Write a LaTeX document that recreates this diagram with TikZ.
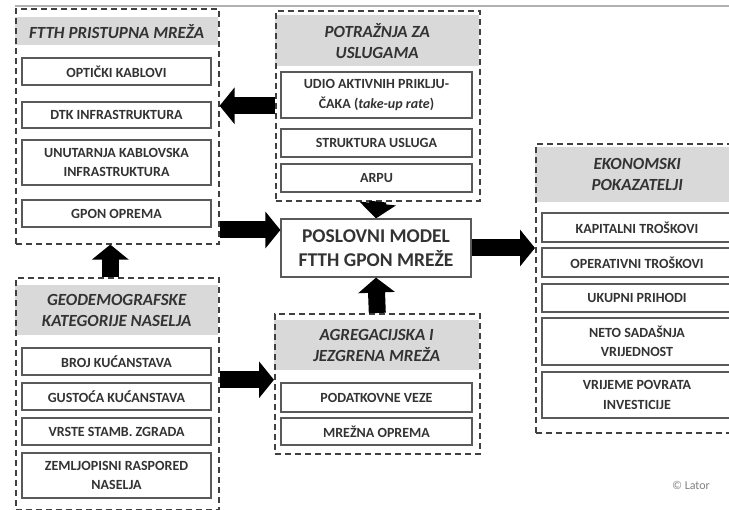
\documentclass[tikz,border=0pt]{standalone}
\usepackage{fontspec}
\setmainfont{Carlito}
\usetikzlibrary{arrows.meta,positioning}
\begin{document}
\begin{tikzpicture}[x=1pt,y=-1pt,
      grp/.style={draw=black!75,line width=1.6pt,dash pattern=on 6pt off 4pt,inner sep=0pt,anchor=north west},
      titleband/.style={fill=black!15,inner sep=0pt,anchor=north west,align=center,text=black!80,
        font=\bfseries\itshape\fontsize{17}{21}\selectfont},
      itembox/.style={draw=black!65,line width=1.2pt,fill=white,inner sep=0pt,align=center,text=black!80,
        font=\bfseries\fontsize{14}{19.5}\selectfont},
      bigarrow/.style={line width=17pt,-{Triangle[length=15pt,width=36pt]}}]
      \useasboundingbox (0,0) rectangle (729,510);
      \draw[black!30,line width=1.5pt] (15,6) -- (729,6);
      \node[titleband,minimum width=203pt,minimum height=28pt] (ftthT) at (15,17) {FTTH PRISTUPNA MREŽA};
      \node[itembox,minimum width=189pt,minimum height=27pt] (optic) at (116.5,71.5) {OPTIČKI KABLOVI};
      \node[itembox,minimum width=189pt,minimum height=26pt] (dtk) at (116.5,115) {DTK INFRASTRUKTURA};
      \node[itembox,minimum width=189pt,minimum height=45pt] (unutarnja) at (116.5,162.5) {UNUTARNJA KABLOVSKA\\INFRASTRUKTURA};
      \node[itembox,minimum width=189pt,minimum height=27pt] (gpon) at (116.5,213.5) {GPON OPREMA};
      \node[grp,minimum width=203pt,minimum height=235pt] (ftth) at (15,8) {};
      \node[titleband,minimum width=204pt,minimum height=51pt] (potT) at (275,15) {POTRAŽNJA ZA\\USLUGAMA};
      \node[itembox,minimum width=191pt,minimum height=46pt] (udio) at (376.5,95) {UDIO AKTIVNIH PRIKLJU-\\ČAKA (\textit{take-up rate})};
      \node[itembox,minimum width=191pt,minimum height=28pt] (struktura) at (376.5,143) {STRUKTURA USLUGA};
      \node[itembox,minimum width=191pt,minimum height=28pt] (arpu) at (376.5,178) {ARPU};
      \node[grp,minimum width=204pt,minimum height=190pt] (pot) at (275,10) {};
      \node[itembox,minimum width=190pt,minimum height=58pt,font=\bfseries\fontsize{19.5}{24}\selectfont] (model) at (376,248) {POSLOVNI MODEL\\FTTH GPON MREŽE};
      \node[titleband,minimum width=203pt,minimum height=50pt] (geoT) at (15,285) {GEODEMOGRAFSKE\\KATEGORIJE NASELJA};
      \node[itembox,minimum width=189pt,minimum height=27pt] (broj) at (116.5,361.5) {BROJ KUĆANSTAVA};
      \node[itembox,minimum width=189pt,minimum height=27pt] (gustoca) at (116.5,396.5) {GUSTOĆA KUĆANSTAVA};
      \node[itembox,minimum width=189pt,minimum height=27pt] (vrste) at (116.5,431.5) {VRSTE STAMB. ZGRADA};
      \node[itembox,minimum width=189pt,minimum height=45pt] (zemljopisni) at (116.5,475.5) {ZEMLJOPISNI RASPORED\\NASELJA};
      \node[grp,minimum width=203pt,minimum height=232pt] (geo) at (15,277) {};
      \node[titleband,minimum width=205pt,minimum height=50pt] (agrT) at (274,320) {AGREGACIJSKA I\\JEZGRENA MREŽA};
      \node[itembox,minimum width=191pt,minimum height=29pt] (podatkovne) at (376.5,397.5) {PODATKOVNE VEZE};
      \node[itembox,minimum width=191pt,minimum height=27pt] (mrezna) at (376.5,431.5) {MREŽNA OPREMA};
      \node[grp,minimum width=205pt,minimum height=140pt] (agr) at (274,313) {};
      \node[titleband,minimum width=204pt,minimum height=55pt] (ekoT) at (535,147) {EKONOMSKI\\POKAZATELJI};
      \node[itembox,minimum width=190pt,minimum height=29pt] (kapitalni) at (637,227.5) {KAPITALNI TROŠKOVI};
      \node[itembox,minimum width=190pt,minimum height=29pt] (operativni) at (637,262.5) {OPERATIVNI TROŠKOVI};
      \node[itembox,minimum width=190pt,minimum height=28pt] (ukupni) at (637,298) {UKUPNI PRIHODI};
      \node[itembox,minimum width=190pt,minimum height=47pt] (neto) at (637,341.5) {NETO SADAŠNJA\\VRIJEDNOST};
      \node[itembox,minimum width=190pt,minimum height=46pt] (vrijeme) at (637,395) {VRIJEME POVRATA\\INVESTICIJE};
      \node[grp,minimum width=204pt,minimum height=289pt] (eko) at (535,143) {};
      \node[text=black!50,font=\fontsize{12}{13}\selectfont] (lator) at (691,485) {© Lator};
      \draw[bigarrow] (pot.west) -- (pot.west -| ftth.east);
      \draw[bigarrow] ([yshift=18pt]model.west -| ftth.east) -- ([yshift=18pt]model.west);
      \draw[bigarrow] (pot.south) -- (model.north);
      \draw[bigarrow] (agr.north) -- (model.south);
      \draw[bigarrow] (model.east) -- (model.east -| eko.west);
      \draw[bigarrow] ([xshift=-7pt]geo.north) -- ([xshift=-7pt]geo.north |- ftth.south);
      \draw[bigarrow] ([yshift=4pt]agr.west -| geo.east) -- ([yshift=4pt]agr.west);
\end{tikzpicture}
\end{document}
